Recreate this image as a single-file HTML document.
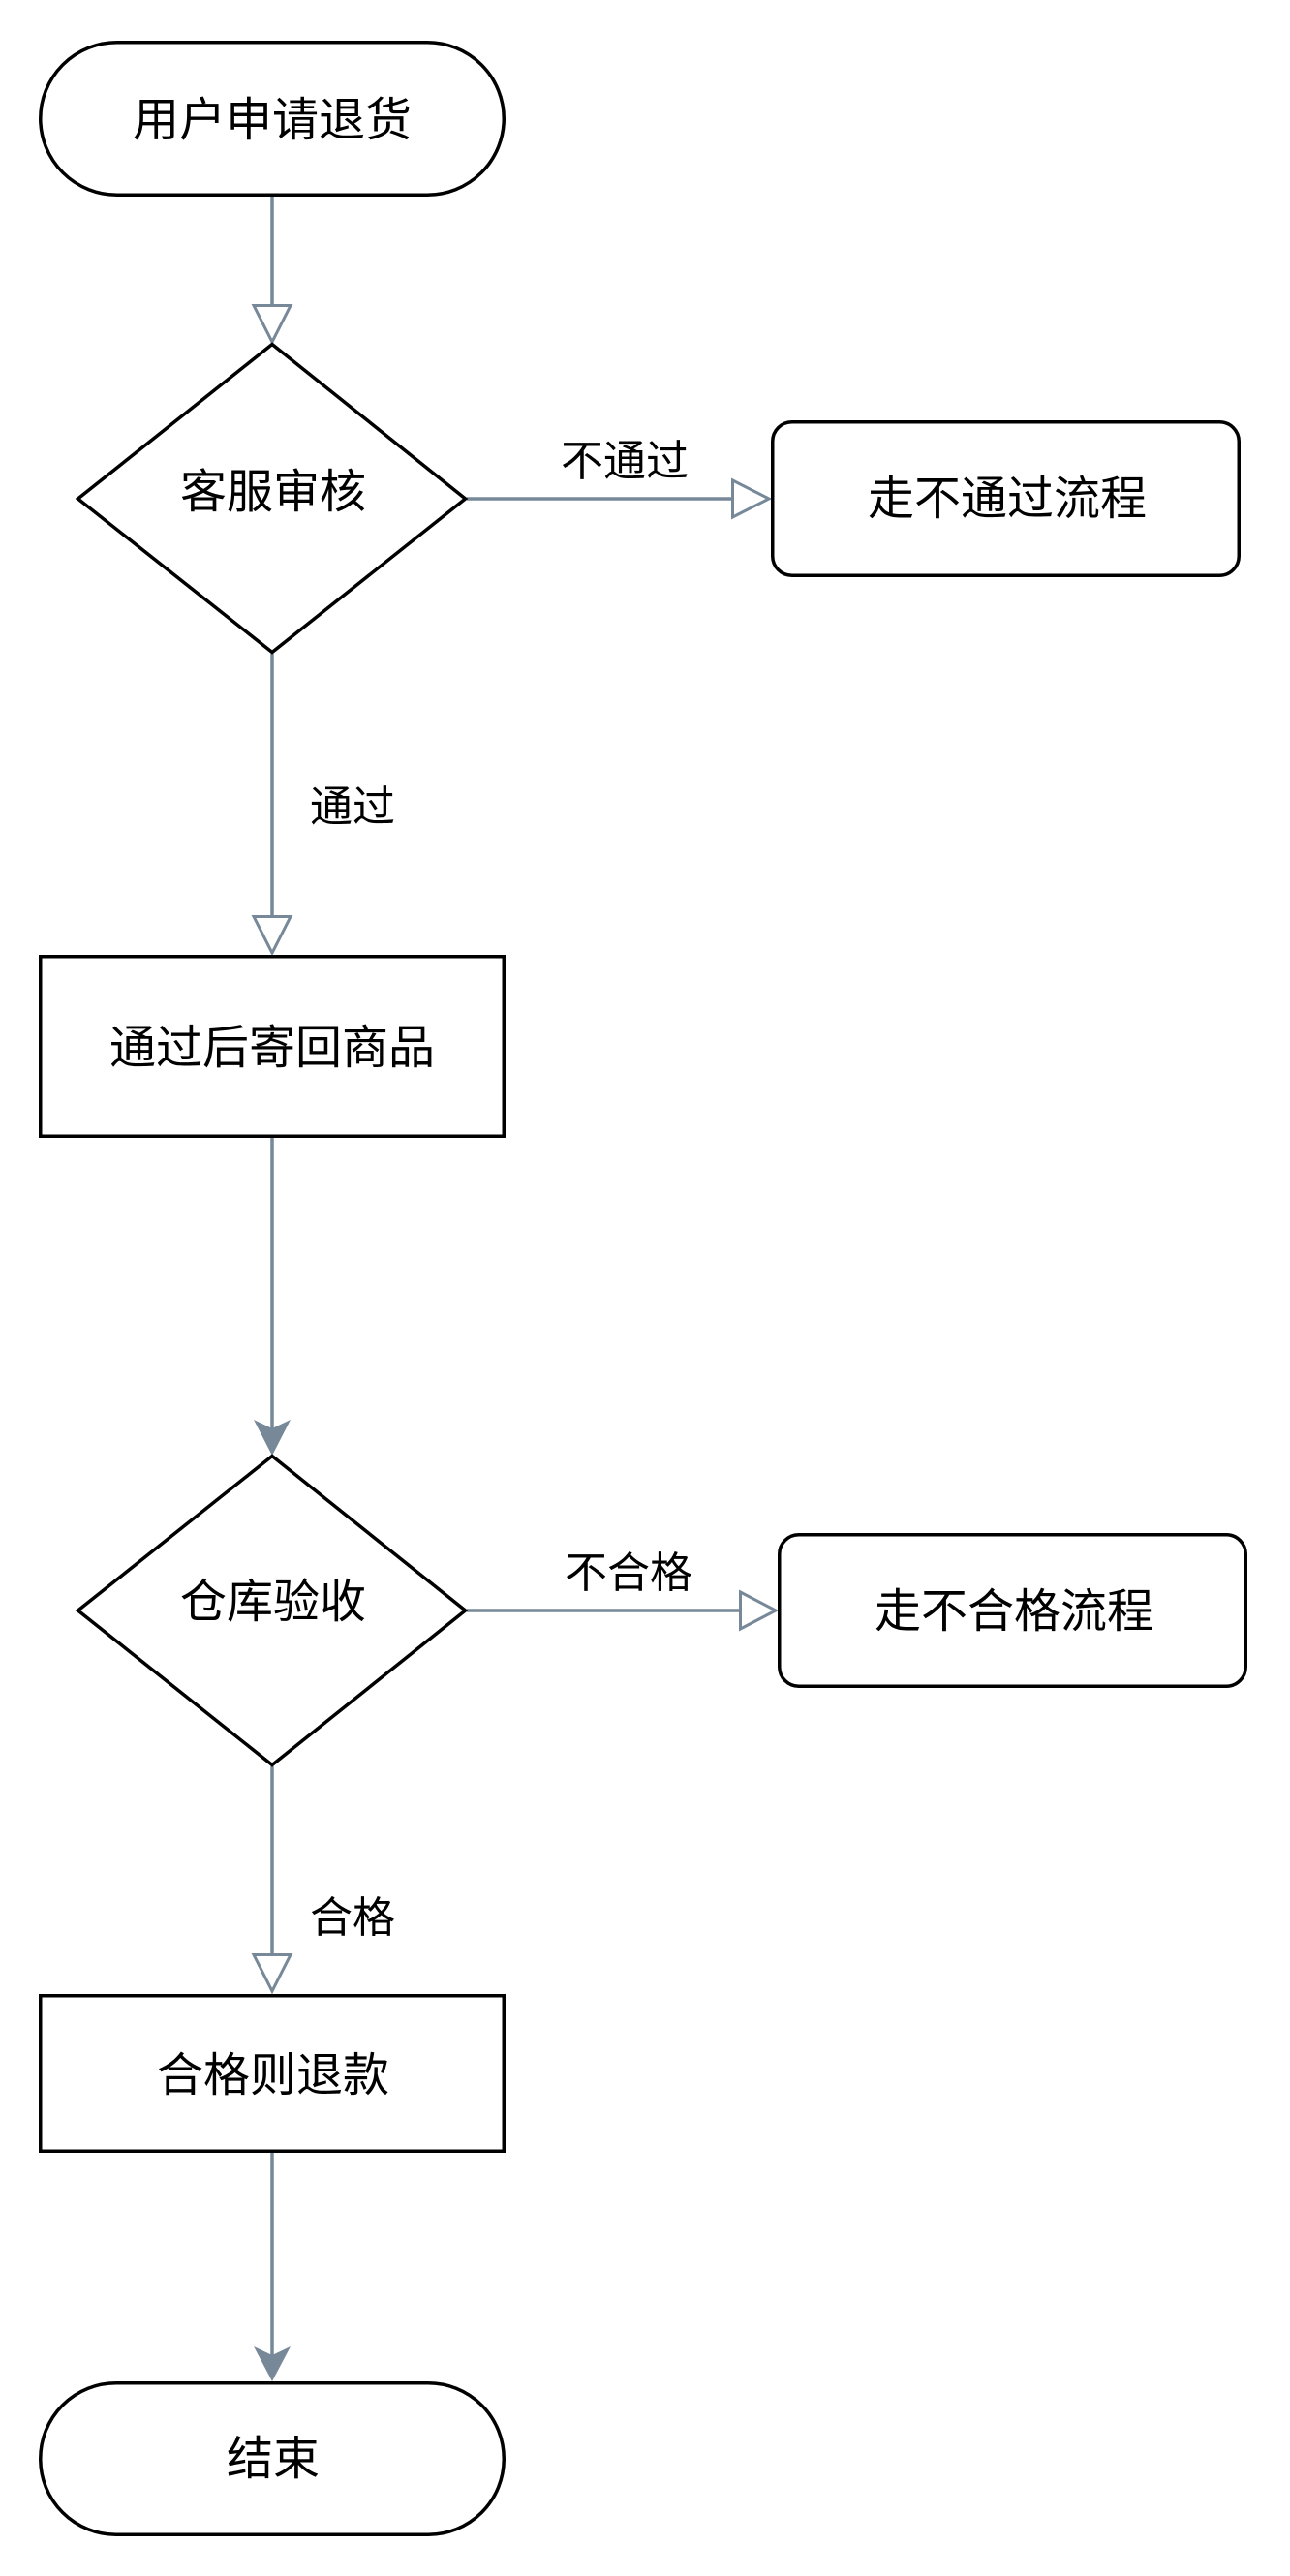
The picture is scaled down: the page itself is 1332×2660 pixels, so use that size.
<!DOCTYPE html>
<html>
<head>
<meta charset="utf-8">
<style>
  html, body { margin: 0; padding: 0; background: #ffffff; }
  body { width: 1332px; height: 2660px; overflow: hidden; }
  svg { display: block; }
  text { font-family: "Liberation Sans", "Noto Sans CJK SC", "WenQuanYi Zen Hei", sans-serif; fill: #000; }
  .node { font-size: 48px; }
  .lbl { font-size: 44px; }
</style>
</head>
<body>
<svg width="1332" height="2660" viewBox="0 0 1332 2660" xmlns="http://www.w3.org/2000/svg">
  <rect x="0" y="0" width="1332" height="2660" fill="#ffffff"/>

  <!-- connectors -->
  <g stroke="#778899" stroke-width="3.5" fill="none">
    <line x1="281" y1="203" x2="281" y2="316"/>
    <line x1="482" y1="515" x2="757" y2="515"/>
    <line x1="281" y1="675" x2="281" y2="947"/>
    <line x1="281" y1="1175" x2="281" y2="1476"/>
    <line x1="482" y1="1663" x2="765" y2="1663"/>
    <line x1="281" y1="1824" x2="281" y2="2019"/>
    <line x1="281" y1="2223" x2="281" y2="2433"/>
  </g>

  <!-- open arrowheads -->
  <g stroke="#778899" stroke-width="3" fill="#ffffff" stroke-linejoin="miter">
    <polygon points="262,315.5 300,315.5 281,353"/>
    <polygon points="756.5,496 756.5,534 794,515"/>
    <polygon points="262,946.5 300,946.5 281,984"/>
    <polygon points="764.5,1644 764.5,1682 801,1663"/>
    <polygon points="262,2018.5 300,2018.5 281,2056"/>
  </g>

  <!-- filled arrowheads -->
  <g fill="#778899" stroke="none">
    <path d="M281,1503 L262,1466 L281,1475 L300,1466 Z"/>
    <path d="M281,2459 L262,2423 L281,2432 L300,2423 Z"/>
  </g>

  <!-- nodes -->
  <g stroke="#000" stroke-width="3.5" fill="#ffffff">
    <rect x="41.75" y="43.75" width="478.5" height="157.5" rx="79" ry="79"/>
    <polygon points="281,355.5 480.5,515 281,673.5 80.5,515"/>
    <rect x="797.75" y="435.75" width="481.5" height="158.5" rx="20" ry="20"/>
    <rect x="41.75" y="987.75" width="478.5" height="185.5"/>
    <polygon points="281,1503.5 480.5,1663 281,1822.5 80.5,1663"/>
    <rect x="804.75" y="1584.75" width="481.5" height="156.5" rx="20" ry="20"/>
    <rect x="41.75" y="2060.75" width="478.5" height="160.5"/>
    <rect x="41.75" y="2460.75" width="478.5" height="156.5" rx="78" ry="78"/>
  </g>

  <!-- node text -->
  <g text-anchor="middle">
    <text class="node" x="281" y="140">用户申请退货</text>
    <text class="node" x="282" y="524">客服审核</text>
    <text class="node" x="1040" y="531">走不通过流程</text>
    <text class="node" x="281" y="1098">通过后寄回商品</text>
    <text class="node" x="282" y="1670">仓库验收</text>
    <text class="node" x="1047" y="1680">走不合格流程</text>
    <text class="node" x="282" y="2159">合格则退款</text>
    <text class="node" x="282" y="2555">结束</text>
  </g>

  <!-- edge labels -->
  <g text-anchor="middle">
    <text class="lbl" x="645" y="491">不通过</text>
    <text class="lbl" x="364" y="848">通过</text>
    <text class="lbl" x="649" y="1639">不合格</text>
    <text class="lbl" x="364" y="1995">合格</text>
  </g>
</svg>
</body>
</html>
